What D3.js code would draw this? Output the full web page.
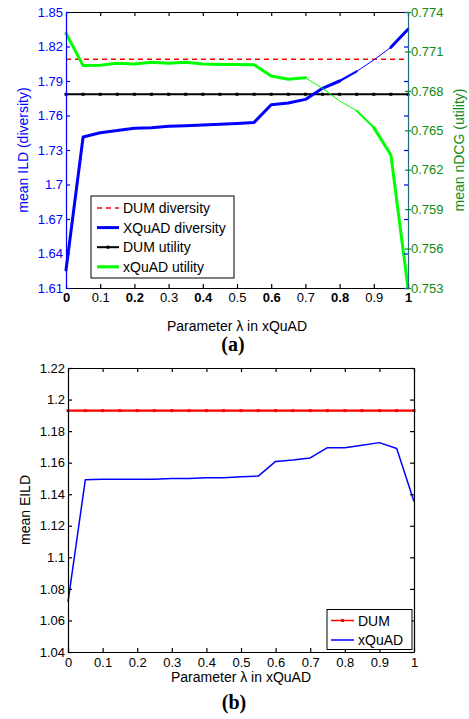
<!DOCTYPE html>
<html><head><meta charset="utf-8">
<script src="https://cdn.jsdelivr.net/npm/d3@7"></script>
<style>
body{margin:0;background:#fff;}
svg text{font-family:"Liberation Sans",Arial,Helvetica,sans-serif;}
svg text.cap{font-family:"Liberation Serif","Times New Roman",serif;}
</style></head>
<body>
<script>
// ---------- data ----------
const lambda = [0,0.05,0.1,0.15,0.2,0.25,0.3,0.35,0.4,0.45,0.5,0.55,0.6,0.65,0.7,0.75,0.8,0.85,0.9,0.95,1];
// (a) top chart
const xquadDiversity = [1.6257,1.7413,1.745,1.747,1.749,1.7494,1.7506,1.7511,1.7517,1.7523,1.753,1.754,1.7694,1.7709,1.774,1.7836,1.79,1.7984,1.8083,1.8193,1.835];
const xquadUtility = [0.77238,0.76992,0.76994,0.7701,0.77004,0.77017,0.7701,0.77017,0.77004,0.7700,0.7700,0.76999,0.76913,0.76888,0.7690,0.76819,0.76723,0.76649,0.7652,0.76312,0.753];
const dumDiversity = 1.809;
const dumUtility = 0.76774;
// (b) bottom chart
const xquadEILD = [1.0718,1.1491,1.1495,1.1495,1.1495,1.1495,1.150,1.150,1.1505,1.1505,1.151,1.1515,1.1608,1.1617,1.163,1.1695,1.1695,1.171,1.1727,1.169,1.1354];
const dumEILD = 1.193;
// tick values
const xTicks = [0,0.1,0.2,0.3,0.4,0.5,0.6,0.7,0.8,0.9,1];
const ildTicks = [1.61,1.64,1.67,1.7,1.73,1.76,1.79,1.82,1.85];
const ndcgTicks = [0.753,0.756,0.759,0.762,0.765,0.768,0.771,0.774];
const eildTicks = [1.04,1.06,1.08,1.1,1.12,1.14,1.16,1.18,1.2,1.22];
const legendA = ["DUM diversity","XQuAD diversity","DUM utility","xQuAD utility"];
const legendB = ["DUM","xQuAD"];

// ---------- drawing ----------
const W=469,H=719;
const svg=d3.select("body").append("svg").attr("width",W).attr("height",H);
const BLUE="#0000ff", GREEN="#00ff00", DKGREEN="#108a10", RED="#ff0000";
const fmt = d=>String(+d.toFixed(3));

// ===== chart (a) =====
const xa=d3.scaleLinear([0,1],[66,408]);
const yL=d3.scaleLinear([1.61,1.85],[288,12]);
const yR=d3.scaleLinear([0.753,0.774],[288,12]);
const ga=svg.append("g");

const pts=(ys,yS)=>lambda.map((l,i)=>[xa(l),yS(ys[i])]);
const line=d3.line();
function seg(g,points,ranges,color){
  ranges.forEach(([a,b,w])=>{
    const p=points.filter((_,i)=>lambda[i]>=a-1e-9&&lambda[i]<=b+1e-9);
    g.append("path").attr("d",line(p)).attr("fill","none").attr("stroke",color)
     .attr("stroke-width",w).attr("stroke-linejoin","round").attr("stroke-linecap","round");
  });
}
// DUM diversity dashed
ga.append("line").attr("x1",xa(0)).attr("x2",xa(1)).attr("y1",yL(dumDiversity)).attr("y2",yL(dumDiversity))
  .attr("stroke",RED).attr("stroke-width",1.5).attr("stroke-dasharray","5,4");
// DUM utility black with dots
ga.append("path").attr("d",line(lambda.map(l=>[xa(l),yR(dumUtility)]))).attr("stroke","#000").attr("stroke-width",2).attr("fill","none");
ga.selectAll(".du").data(lambda).join("rect").attr("x",d=>xa(d)-1.5).attr("y",yR(dumUtility)-1.5).attr("width",3).attr("height",3).attr("fill","#000");
// XQuAD diversity
seg(ga,pts(xquadDiversity,yL),[[0,0.8,3],[0.8,0.85,2.2],[0.85,0.95,1],[0.95,1,3]],BLUE);
// xQuAD utility
seg(ga,pts(xquadUtility,yR),[[0,0.7,3],[0.7,0.85,1],[0.85,0.9,2],[0.9,1,3]],GREEN);

// axes
const axB=ga.append("g").attr("transform","translate(0,288)")
  .call(d3.axisBottom(xa).tickValues(xTicks).tickFormat(fmt).tickSizeInner(-4).tickSizeOuter(0).tickPadding(5));
axB.selectAll("text").attr("font-weight",(d,i)=>i%2===0?"bold":"normal");
const axT=ga.append("g").attr("transform","translate(0,12)")
  .call(d3.axisTop(xa).tickValues(xTicks).tickFormat("").tickSizeInner(-4).tickSizeOuter(0));
const axL=ga.append("g").attr("transform","translate(66,0)")
  .call(d3.axisLeft(yL).tickValues(ildTicks).tickFormat(fmt).tickSizeInner(-4).tickSizeOuter(0).tickPadding(3));
const axRb=ga.append("g").attr("transform","translate(408,0)")
  .call(d3.axisRight(yL).tickValues(ildTicks).tickFormat("").tickSizeInner(-4).tickSizeOuter(0));
const axR=ga.append("g").attr("transform","translate(408,0)")
  .call(d3.axisRight(yR).tickValues(ndcgTicks).tickFormat(fmt).tickSizeInner(3).tickSizeOuter(0).tickPadding(0));
axR.selectAll(".tick line").attr("x1",-3);
[axB,axT,axL,axRb,axR].forEach(a=>a.selectAll("text").attr("font-size",13));
axB.selectAll("path,line").attr("stroke","#000").attr("stroke-width",1.2);
axT.selectAll("path,line").attr("stroke","#000").attr("stroke-width",1.2);
axB.selectAll("text").attr("fill","#000");
axL.selectAll("path,line").attr("stroke",BLUE).attr("stroke-width",1.2);
axL.selectAll("text").attr("fill",BLUE);
axRb.select("path").remove();
axRb.selectAll("line").attr("stroke",BLUE).attr("stroke-width",1.2);
axR.select("path").attr("stroke","#1f6a80").attr("stroke-width",1.2);
axR.selectAll("line").attr("stroke",DKGREEN).attr("stroke-width",1.2);
axR.selectAll("text").attr("fill",DKGREEN);

ga.append("text").attr("x",(66+408)/2).attr("y",331).attr("text-anchor","middle").attr("font-size",14).text("Parameter λ in xQuAD");
ga.append("text").attr("transform","translate(28,150) rotate(-90)").attr("text-anchor","middle").attr("font-size",14).attr("fill",BLUE).text("mean ILD (diversity)");
ga.append("text").attr("transform","translate(464,150) rotate(-90)").attr("text-anchor","middle").attr("font-size",14).attr("fill",DKGREEN).text("mean nDCG (utility)");
ga.append("text").attr("class","cap").attr("x",233).attr("y",351).attr("text-anchor","middle").attr("font-size",20).attr("font-weight","bold").text("(a)");

// legend (a)
const lgA=ga.append("g");
lgA.append("rect").attr("x",91).attr("y",196).attr("width",143).attr("height",82).attr("fill","#fff").attr("stroke","#000").attr("stroke-width",1);
const lgStyles=[{c:RED,w:1.5,dash:"5,4"},{c:BLUE,w:3},{c:"#000",w:2,dot:true},{c:GREEN,w:3}];
legendA.forEach((t,i)=>{
  const y=208+i*19.6, s=lgStyles[i];
  lgA.append("line").attr("x1",97).attr("x2",119).attr("y1",y).attr("y2",y).attr("stroke",s.c).attr("stroke-width",s.w).attr("stroke-dasharray",s.dash||null);
  if(s.dot) lgA.append("rect").attr("x",106.5).attr("y",y-1.5).attr("width",3).attr("height",3).attr("fill","#000");
  lgA.append("text").attr("x",123).attr("y",y+5).attr("font-size",14).text(t);
});

// ===== chart (b) =====
const xb=d3.scaleLinear([0,1],[68,414]);
const yb=d3.scaleLinear([1.04,1.22],[652,368]);
const gb=svg.append("g");
gb.append("path").attr("d",line(lambda.map((l,i)=>[xb(l),yb(xquadEILD[i])]))).attr("fill","none").attr("stroke",BLUE).attr("stroke-width",1.5).attr("stroke-linejoin","round");
gb.append("path").attr("d",line(lambda.map(l=>[xb(l),yb(dumEILD)]))).attr("fill","none").attr("stroke",RED).attr("stroke-width",2.2);
gb.selectAll(".dm").data(lambda).join("rect").attr("x",d=>xb(d)-1.5).attr("y",yb(dumEILD)-1.5).attr("width",3).attr("height",3).attr("fill",RED);

const bB=gb.append("g").attr("transform","translate(0,652)")
  .call(d3.axisBottom(xb).tickValues(xTicks).tickFormat(fmt).tickSizeInner(-4).tickSizeOuter(0).tickPadding(6));
const bT=gb.append("g").attr("transform","translate(0,368)")
  .call(d3.axisTop(xb).tickValues(xTicks).tickFormat("").tickSizeInner(-4).tickSizeOuter(0));
const bL=gb.append("g").attr("transform","translate(68,0)")
  .call(d3.axisLeft(yb).tickValues(eildTicks).tickFormat(fmt).tickSizeInner(-4).tickSizeOuter(0).tickPadding(3));
const bR=gb.append("g").attr("transform","translate(414,0)")
  .call(d3.axisRight(yb).tickValues(eildTicks).tickFormat("").tickSizeInner(-4).tickSizeOuter(0));
[bB,bT,bL,bR].forEach(a=>{a.selectAll("path,line").attr("stroke","#000").attr("stroke-width",1.2);
  a.selectAll("text").attr("font-size",13).attr("fill","#000");});
gb.append("text").attr("x",(68+414)/2).attr("y",682).attr("text-anchor","middle").attr("font-size",14).text("Parameter λ in xQuAD");
gb.append("text").attr("transform","translate(30,510) rotate(-90)").attr("text-anchor","middle").attr("font-size",14).text("mean EILD");
gb.append("text").attr("class","cap").attr("x",234).attr("y",709).attr("text-anchor","middle").attr("font-size",20).attr("font-weight","bold").text("(b)");

const lgB=gb.append("g");
lgB.append("rect").attr("x",327).attr("y",609.5).attr("width",85).attr("height",40).attr("fill","#fff").attr("stroke","#000").attr("stroke-width",1);
const lbStyles=[{c:RED,w:1.5,dot:true},{c:BLUE,w:1.5}];
legendB.forEach((t,i)=>{
  const y=620.5+i*19.5, s=lbStyles[i];
  lgB.append("line").attr("x1",331).attr("x2",354).attr("y1",y).attr("y2",y).attr("stroke",s.c).attr("stroke-width",s.w);
  if(s.dot) lgB.append("rect").attr("x",341).attr("y",y-1.5).attr("width",3).attr("height",3).attr("fill",RED);
  lgB.append("text").attr("x",358).attr("y",y+5).attr("font-size",14).text(t);
});
</script>
</body></html>
